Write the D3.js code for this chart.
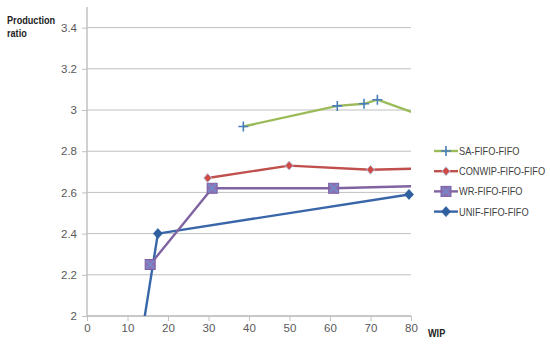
<!DOCTYPE html>
<html><head><meta charset="utf-8">
<script src="https://cdn.jsdelivr.net/npm/d3@7"></script>
<style>body{margin:0;background:#fff}svg{display:block}text{font-family:"Liberation Sans",Arial,sans-serif}</style>
</head><body><svg id="c" width="550" height="350"></svg>
<script>
const xTicks = [0,10,20,30,40,50,60,70,80];
const yTicks = [2,2.2,2.4,2.6,2.8,3,3.2,3.4];
const seriesNames = ["SA-FIFO-FIFO","CONWIP-FIFO-FIFO","WR-FIFO-FIFO","UNIF-FIFO-FIFO"];
const saX = [38.6,61.8,68.4,71.7,90];
const saY = [2.92,3.02,3.03,3.05,2.92];
const conwipX = [29.8,49.9,70,90];
const conwipY = [2.67,2.73,2.71,2.72];
const wrX = [15.6,30.9,60.9,90];
const wrY = [2.25,2.62,2.62,2.635];
const unifX = [12,17.5,79.5];
const unifY = [1.72,2.40,2.59];

const svg = d3.select("#c");
const L=87, R=411, T=7, B=316;
const x = d3.scaleLinear().domain([0,80]).range([L,R]);
const y = d3.scaleLinear().domain([2,3.5]).range([B,T]);
const grid="#c0c0c0", lab="#595959";

function narrowText(g, px, py, f){
  return g.append("text").attr("transform",`translate(${px},${py}) scale(${f},1)`);
}

svg.append("defs").append("clipPath").attr("id","pc").append("rect")
  .attr("x",L).attr("y",T).attr("width",R-L).attr("height",B-T);

// gridlines
svg.append("g").selectAll("line").data(yTicks).join("line")
  .attr("x1",L).attr("x2",R).attr("y1",d=>y(d)).attr("y2",d=>y(d))
  .attr("stroke",grid).attr("stroke-width",1);

// y axis
const ya = svg.append("g").attr("transform",`translate(${L},0)`)
  .call(d3.axisLeft(y).tickValues(yTicks).tickSize(5).tickPadding(5).tickFormat(d3.format("~g")));
ya.select(".domain").attr("stroke",grid).attr("stroke-width",1.5).attr("d",`M0,${T}V${B}`);
ya.selectAll(".tick line").attr("stroke",grid);
ya.selectAll("text").attr("fill",lab).style("font-size","11.5px");

// x axis
const xa = svg.append("g").attr("transform",`translate(0,${B})`)
  .call(d3.axisBottom(x).tickValues(xTicks).tickSize(5).tickPadding(3));
xa.select(".domain").attr("stroke",grid).attr("stroke-width",1.5).attr("d",`M${L},0H${R}`);
xa.selectAll(".tick line").attr("stroke",grid);
xa.selectAll("text").attr("fill",lab).style("font-size","11.5px");

// titles
narrowText(svg,7,24,0.83).attr("font-weight","bold").attr("font-size","11px").attr("fill","#222").text("Production");
narrowText(svg,7,37,0.83).attr("font-weight","bold").attr("font-size","11px").attr("fill","#222").text("ratio");
narrowText(svg,428,337,0.83).attr("font-weight","bold").attr("font-size","11px").attr("fill","#222").text("WIP");

const cfg = [
  {xs:saX, ys:saY, color:"#9bbb59", marker:"plus"},
  {xs:conwipX, ys:conwipY, color:"#c0504d", marker:"diamondR"},
  {xs:wrX, ys:wrY, color:"#8064a2", marker:"square"},
  {xs:unifX, ys:unifY, color:"#3866a8", marker:"diamondB"}
];
const line = d3.line().x(d=>x(d[0])).y(d=>y(d[1]));

function drawMarker(g, type, cx, cy){
  if(type==="plus"){
    g.append("path").attr("d",`M${cx-5},${cy}H${cx+5}M${cx},${cy-5}V${cy+5}`)
      .attr("stroke","#4a7ebb").attr("stroke-width",1.6).attr("fill","none");
  } else if(type==="diamondR"){
    g.append("path").attr("d",`M${cx},${cy-4.5}L${cx+4},${cy}L${cx},${cy+4.5}L${cx-4},${cy}Z`)
      .attr("fill","#d04a45").attr("stroke","#b9c9e4").attr("stroke-width",1);
  } else if(type==="square"){
    g.append("rect").attr("x",cx-5).attr("y",cy-5).attr("width",10).attr("height",10)
      .attr("fill","#8d72b3").attr("stroke","#7a5fa3").attr("stroke-width",1);
    g.append("path").attr("d",`M${cx-4},${cy-4}L${cx+4},${cy+4}M${cx+4},${cy-4}L${cx-4},${cy+4}`)
      .attr("stroke","#6f8fce").attr("stroke-width",1.2);
  } else {
    g.append("path").attr("d",`M${cx},${cy-5}L${cx+4.5},${cy}L${cx},${cy+5}L${cx-4.5},${cy}Z`)
      .attr("fill","#2f5f9e").attr("stroke","#2f5f9e").attr("stroke-width",0.8);
  }
}

const plot = svg.append("g").attr("clip-path","url(#pc)");
cfg.slice().reverse().forEach(s=>{
  const pts = s.xs.map((v,i)=>[v,s.ys[i]]);
  plot.append("path").datum(pts).attr("d",line).attr("fill","none")
    .attr("stroke",s.color).attr("stroke-width",2.4).attr("stroke-linejoin","round");
});
const mk = svg.append("g");
cfg.slice().reverse().forEach(s=>{
  s.xs.forEach((v,i)=>{
    const yv=s.ys[i];
    if(v>=0&&v<=80&&yv>=2&&yv<=3.5) drawMarker(mk,s.marker,x(v),y(yv));
  });
});

// legend
const lg = svg.append("g");
seriesNames.forEach((n,i)=>{
  const cy = 151 + i*20.2;
  lg.append("line").attr("x1",434).attr("x2",458).attr("y1",cy).attr("y2",cy)
    .attr("stroke",cfg[i].color).attr("stroke-width",2.4);
  drawMarker(lg,cfg[i].marker,446,cy);
  narrowText(lg,459,cy+4,0.84).attr("font-size","11px").attr("fill","#404040").text(n);
});
</script></body></html>
